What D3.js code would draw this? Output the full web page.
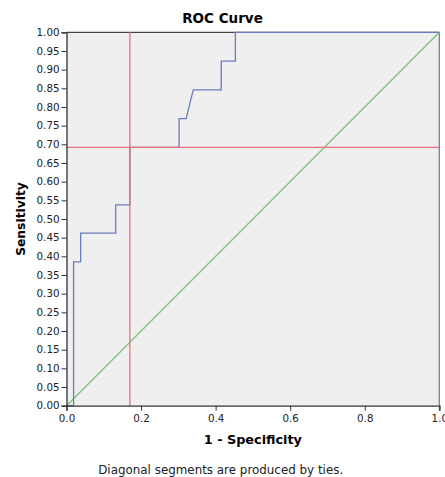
<!doctype html>
<html>
<head>
  <meta charset="utf-8">
  <script src="https://cdnjs.cloudflare.com/ajax/libs/d3/7.8.5/d3.min.js"></script>
  <style>
    body { margin: 0; background: #fff; }
    svg { display: block; font-family: "DejaVu Sans", sans-serif; }
    .tick text { font-size: 10.3px; fill: #222; }
    .tick line { stroke: #333; }
  </style>
</head>
<body>
<svg id="chart" width="445" height="477"></svg>
<script>
  // ROC curve (1 - specificity, sensitivity)
  var fpr = [0, 0.019, 0.019, 0.038, 0.038, 0.132, 0.132, 0.170, 0.170, 0.302, 0.302, 0.321, 0.340, 0.415, 0.415, 0.453, 0.453, 1];
  var tpr = [0, 0, 0.385, 0.385, 0.462, 0.462, 0.538, 0.538, 0.692, 0.692, 0.769, 0.769, 0.846, 0.846, 0.923, 0.923, 1, 1];
  var diagonal = [0, 1];
  var cutX = 0.170, cutY = 0.692;   // reference lines
  var yTicks = d3.range(0, 1.0001, 0.05);
  var xTicks = [0, 0.2, 0.4, 0.6, 0.8, 1.0];

  var pLeft = 66.5, pRight = 439.3, pTop = 32.3, pBottom = 405.7;

  var svg = d3.select("#chart");
  var x = d3.scaleLinear().domain([0, 1]).range([pLeft, pRight]);
  var y = d3.scaleLinear().domain([0, 1]).range([pBottom, pTop]);

  svg.append("rect")
    .attr("x", pLeft).attr("y", pTop)
    .attr("width", pRight - pLeft).attr("height", pBottom - pTop)
    .attr("fill", "#efefef");

  // frame top/right
  svg.append("line").attr("x1", pLeft).attr("x2", pRight).attr("y1", pTop).attr("y2", pTop)
    .attr("stroke", "#444").attr("stroke-width", 1.2);
  svg.append("line").attr("x1", pRight).attr("x2", pRight).attr("y1", pTop).attr("y2", pBottom)
    .attr("stroke", "#777").attr("stroke-width", 1.2);

  var line = d3.line().x(function(d) { return x(d[0]); }).y(function(d) { return y(d[1]); });

  svg.append("path")
    .datum(diagonal.map(function(v) { return [v, v]; }))
    .attr("d", line).attr("fill", "none")
    .attr("stroke", "#7cc27c").attr("stroke-width", 1.3);

  svg.append("path")
    .datum(fpr.map(function(v, i) { return [v, tpr[i]]; }))
    .attr("d", line).attr("fill", "none")
    .attr("stroke", "#6a7cc0").attr("stroke-width", 1.3);

  svg.append("line")
    .attr("x1", x(cutX)).attr("x2", x(cutX)).attr("y1", pTop).attr("y2", pBottom)
    .attr("stroke", "#e8707c").attr("stroke-width", 1.3);
  svg.append("line")
    .attr("x1", pLeft).attr("x2", pRight).attr("y1", y(cutY)).attr("y2", y(cutY))
    .attr("stroke", "#e8707c").attr("stroke-width", 1.3);

  var yAxis = svg.append("g")
    .attr("transform", "translate(" + pLeft + ",0)")
    .call(d3.axisLeft(y).tickValues(yTicks).tickFormat(d3.format(".2f")).tickSize(5).tickPadding(2));
  var xAxis = svg.append("g")
    .attr("transform", "translate(0," + pBottom + ")")
    .call(d3.axisBottom(x).tickValues(xTicks).tickFormat(d3.format(".1f")).tickSize(5).tickPadding(4));
  [yAxis, xAxis].forEach(function(g) {
    g.select(".domain").attr("stroke", "#333").attr("stroke-width", 1.3);
    g.selectAll("text").style("font-family", "DejaVu Sans, sans-serif");
  });

  svg.append("text")
    .attr("x", 222.5).attr("y", 23)
    .attr("text-anchor", "middle")
    .style("font-size", "13.5px").style("font-weight", "bold")
    .text("ROC Curve");

  svg.append("text")
    .attr("x", (pLeft + pRight) / 2).attr("y", 444)
    .attr("text-anchor", "middle")
    .style("font-size", "12.8px").style("font-weight", "bold")
    .text("1 - Specificity");

  svg.append("text")
    .attr("transform", "translate(25," + ((pTop + pBottom) / 2) + ") rotate(-90)")
    .attr("text-anchor", "middle")
    .style("font-size", "12.3px").style("font-weight", "bold")
    .text("Sensitivity");

  svg.append("text")
    .attr("x", 220.7).attr("y", 474)
    .attr("text-anchor", "middle")
    .style("font-size", "11.9px").attr("fill", "#222")
    .text("Diagonal segments are produced by ties.");
</script>
</body>
</html>
